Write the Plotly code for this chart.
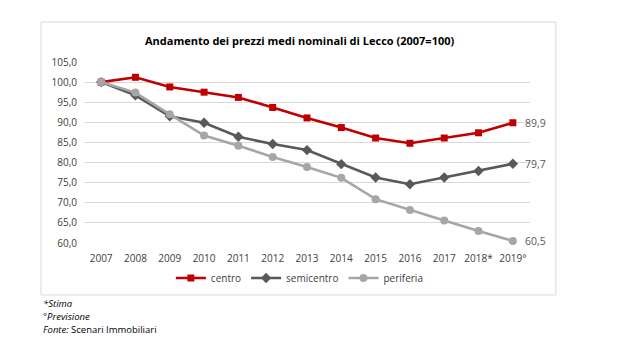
import plotly.graph_objects as go

years = ["2007", "2008", "2009", "2010", "2011", "2012", "2013", "2014", "2015", "2016", "2017", "2018*", "2019°"]
centro = [100.0, 101.2, 98.8, 97.5, 96.2, 93.7, 91.1, 88.7, 86.1, 84.8, 86.1, 87.4, 89.9]
semicentro = [100.0, 96.7, 91.5, 89.9, 86.4, 84.6, 83.1, 79.6, 76.3, 74.6, 76.3, 77.9, 79.7]
periferia = [100.0, 97.4, 92.0, 86.7, 84.2, 81.4, 78.9, 76.2, 70.9, 68.2, 65.6, 63.0, 60.5]

FONT = "Open Sans"
series = [
    ("centro", centro, "#c00000", "square", 7),
    ("semicentro", semicentro, "#595959", "diamond", 8),
    ("periferia", periferia, "#a6a6a6", "circle", 8),
]

fig = go.Figure()
for name, vals, col, sym, size in series:
    fig.add_trace(go.Scatter(
        x=years, y=vals, name=name, mode="lines+markers",
        line=dict(color=col, width=2.6),
        marker=dict(symbol=sym, size=size, color=col),
        cliponaxis=False,
    ))
    fig.add_annotation(
        x=years[-1], y=vals[-1], text=f"{vals[-1]:.1f}".replace(".", ","),
        showarrow=False, xanchor="left", xshift=10,
        font=dict(family=FONT, size=10.5, color="#595959"),
    )

# page body has an 8px margin, so the figure starts at (8, 8)
fig.update_layout(
    width=608, height=341,
    margin=dict(l=76, r=86, t=54, b=106, autoexpand=False),
    paper_bgcolor="white", plot_bgcolor="white",
    separators=",.",
    font=dict(family=FONT, size=10, color="#404040"),
    showlegend=True,
    legend=dict(orientation="h", x=0.484, xanchor="center", y=-0.193, yanchor="middle",
                font=dict(family=FONT, size=10, color="#404040"),
                tracegroupgap=0),
    xaxis=dict(type="category", range=[-0.5, 12.5], showgrid=False, zeroline=False,
               showline=False, ticks="", automargin=False, ticklabelstandoff=8,
               tickfont=dict(family=FONT, size=10, color="#404040")),
    yaxis=dict(range=[60, 105], dtick=5, tickformat=".1f", showgrid=True,
               gridcolor="#d9d9d9", gridwidth=1, zeroline=False, showline=False,
               ticks="", automargin=False, ticklabelstandoff=6,
               tickfont=dict(family=FONT, size=10, color="#404040")),
    shapes=[dict(type="rect", xref="paper", yref="paper", x0=-0.0964, x1=1.058,
                 y0=-0.287, y1=1.221, line=dict(color="#d9d9d9", width=1))],
)

fig.add_annotation(
    xref="paper", yref="paper", x=0.484, y=(243 - 40) / 181, showarrow=False,
    xanchor="center", yanchor="middle",
    text="<b>Andamento dei prezzi medi nominali di Lecco (2007=100)</b>",
    font=dict(family=FONT, size=11, color="#000000"),
)

notes = ["<i>*Stima</i>", "<i>°Previsione</i>", "<i>Fonte:</i> Scenari Immobiliari"]
for i, t in enumerate(notes):
    fig.add_annotation(
        xref="paper", yref="paper", x=-0.0964, y=(243 - (303 + 13 * i)) / 181,
        text=t, showarrow=False, xanchor="left", yanchor="middle",
        font=dict(family=FONT, size=9.5, color="#000000"),
    )

fig.write_html("out.html")
